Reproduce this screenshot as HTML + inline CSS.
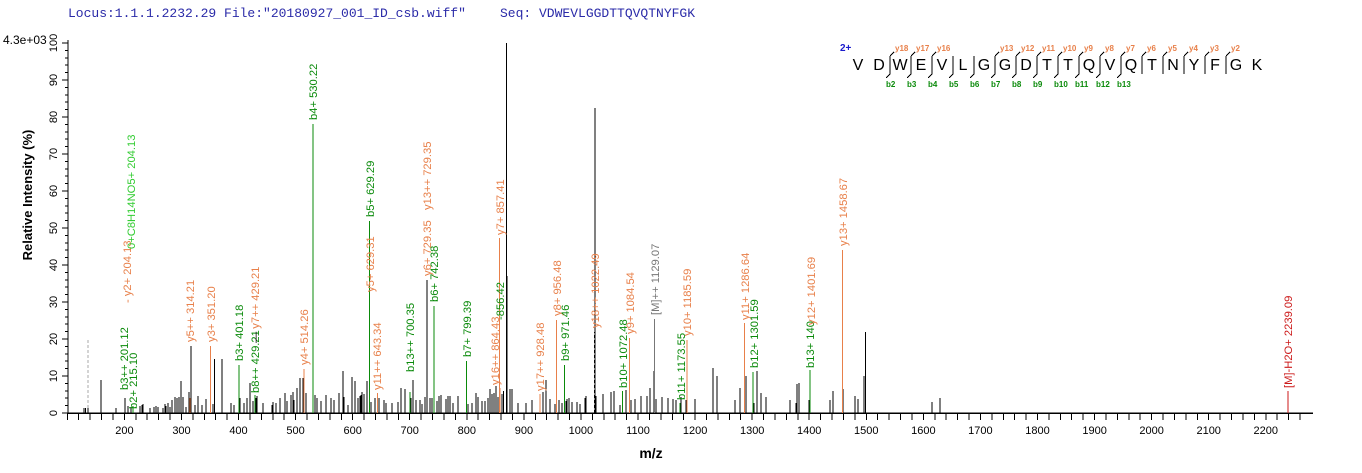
<!DOCTYPE html>
<html><head><meta charset="utf-8"><style>
html,body{margin:0;padding:0;background:#fff;}
svg{display:block;font-family:"Liberation Sans",Arial,sans-serif;}
.t{font-size:11.2px;}
line,path{shape-rendering:crispEdges;}
</style></head><body>
<svg width="1362" height="473" viewBox="0 0 1362 473" xmlns="http://www.w3.org/2000/svg">
<text x="68" y="17" font-family="Liberation Mono,monospace" font-size="13" fill="#2a2aa8">Locus:1.1.1.2232.29 File:"20180927_001_ID_csb.wiff"</text>
<text x="500" y="17" font-family="Liberation Mono,monospace" font-size="13" fill="#2a2aa8">Seq: VDWEVLGGDTTQVQTNYFGK</text>
<text x="3" y="44" font-size="12">4.3e+03</text>

<line x1="68" y1="40" x2="68" y2="413" stroke="#000"/>
<line x1="68" y1="413" x2="1313" y2="413" stroke="#000" stroke-width="1.5"/>
<g stroke="#000">
<path d="M62 43H68M62 80H68M62 117H68M62 154H68M62 191H68M62 228H68M62 265H68M62 302H68M62 339H68M62 376H68M62 413H68"/>
<path d="M65 50.4H68M65 57.8H68M65 65.2H68M65 72.6H68M65 87.4H68M65 94.8H68M65 102.2H68M65 109.6H68M65 124.4H68M65 131.8H68M65 139.2H68M65 146.6H68M65 161.4H68M65 168.8H68M65 176.2H68M65 183.6H68M65 198.4H68M65 205.8H68M65 213.2H68M65 220.6H68M65 235.4H68M65 242.8H68M65 250.2H68M65 257.6H68M65 272.4H68M65 279.8H68M65 287.2H68M65 294.6H68M65 309.4H68M65 316.8H68M65 324.2H68M65 331.6H68M65 346.4H68M65 353.8H68M65 361.2H68M65 368.6H68M65 383.4H68M65 390.8H68M65 398.2H68M65 405.6H68"/>
</g>
<g font-size="11" text-anchor="middle">
<text transform="translate(57,43) rotate(-90)">100</text>
<text transform="translate(57,80) rotate(-90)">90</text>
<text transform="translate(57,117) rotate(-90)">80</text>
<text transform="translate(57,154) rotate(-90)">70</text>
<text transform="translate(57,191) rotate(-90)">60</text>
<text transform="translate(57,228) rotate(-90)">50</text>
<text transform="translate(57,265) rotate(-90)">40</text>
<text transform="translate(57,302) rotate(-90)">30</text>
<text transform="translate(57,339) rotate(-90)">20</text>
<text transform="translate(57,376) rotate(-90)">10</text>
<text transform="translate(57,413) rotate(-90)">0</text>
</g>
<text transform="translate(32,195) rotate(-90)" font-size="13" font-weight="bold" text-anchor="middle">Relative   Intensity (%)</text>

<g stroke="#000">
<path d="M67.3 413V420M78.7 413V420M90.1 413V420M101.6 413V420M113 413V420M124.4 413V420M135.8 413V420M147.2 413V420M158.6 413V420M170 413V420M181.5 413V420M192.9 413V420M204.3 413V420M215.7 413V420M227.1 413V420M238.5 413V420M249.9 413V420M261.4 413V420M272.8 413V420M284.2 413V420M295.6 413V420M307 413V420M318.4 413V420M329.8 413V420M341.3 413V420M352.7 413V420M364.1 413V420M375.5 413V420M386.9 413V420M398.3 413V420M409.7 413V420M421.1 413V420M432.6 413V420M444 413V420M455.4 413V420M466.8 413V420M478.2 413V420M489.6 413V420M501 413V420M512.5 413V420M523.9 413V420M535.3 413V420M546.7 413V420M558.1 413V420M569.5 413V420M580.9 413V420M592.4 413V420M603.8 413V420M615.2 413V420M626.6 413V420M638 413V420M649.4 413V420M660.8 413V420M672.3 413V420M683.7 413V420M695.1 413V420M706.5 413V420M717.9 413V420M729.3 413V420M740.7 413V420M752.2 413V420M763.6 413V420M775 413V420M786.4 413V420M797.8 413V420M809.2 413V420M820.6 413V420M832.1 413V420M843.5 413V420M854.9 413V420M866.3 413V420M877.7 413V420M889.1 413V420M900.5 413V420M912 413V420M923.4 413V420M934.8 413V420M946.2 413V420M957.6 413V420M969 413V420M980.4 413V420M991.9 413V420M1003.3 413V420M1014.7 413V420M1026.1 413V420M1037.5 413V420M1048.9 413V420M1060.3 413V420M1071.7 413V420M1083.2 413V420M1094.6 413V420M1106 413V420M1117.4 413V420M1128.8 413V420M1140.2 413V420M1151.6 413V420M1163.1 413V420M1174.5 413V420M1185.9 413V420M1197.3 413V420M1208.7 413V420M1220.1 413V420M1231.5 413V420M1243 413V420M1254.4 413V420M1265.8 413V420M1277.2 413V420M1288.6 413V420M1300 413V420"/>
</g>
<g font-size="11" text-anchor="middle">
<text x="124.4" y="434">200</text><text x="181.5" y="434">300</text><text x="238.5" y="434">400</text><text x="295.6" y="434">500</text><text x="352.7" y="434">600</text><text x="409.7" y="434">700</text><text x="466.8" y="434">800</text><text x="523.9" y="434">900</text><text x="580.9" y="434">1000</text><text x="638" y="434">1100</text><text x="695.1" y="434">1200</text><text x="752.2" y="434">1300</text><text x="809.2" y="434">1400</text><text x="866.3" y="434">1500</text><text x="923.4" y="434">1600</text><text x="980.4" y="434">1700</text><text x="1037.5" y="434">1800</text><text x="1094.6" y="434">1900</text><text x="1151.6" y="434">2000</text><text x="1208.7" y="434">2100</text><text x="1265.8" y="434">2200</text>
</g>
<text x="651" y="458" font-size="14" font-weight="bold" text-anchor="middle">m/z</text>

<line x1="88" y1="413" x2="88" y2="339" stroke="#aaa" stroke-dasharray="3,2"/>
<g stroke="#000">
<path d="M84 413V408M85.5 413V408M88 413V408M101 413V380M116 413V408M125 413V398M128 413V406M131 413V407M140 413V406M142 413V405M143 413V404M150 413V408M154 413V407M156 413V406M158 413V407M163 413V408M165 413V404M166 413V406M168 413V403M170 413V407M172 413V400M175 413V397M177 413V398M179 413V397M181 413V381M183 413V397M186 413V407M189 413V392M191 413V346M195 413V405M198 413V396M202 413V405M206 413V399M213 413V404M214.5 413V359M222 413V359M231 413V403M234 413V405M240 413V398M244 413V403M247 413V398M250 413V383M253 413V401M256 413V398M257 413V396M263 413V403M272 413V405M273 413V402M276 413V403M280 413V398M285 413V393M287 413V401M291 413V395M293 413V392M294 413V400M297 413V388M300 413V378M303 413V378M306 413V393M315 413V395M317 413V398M321 413V401M326 413V395M331 413V398M334 413V400M339 413V393M343 413V371M344 413V397M348 413V405M352 413V377M355 413V381M358 413V398M360 413V396M361 413V395M362 413V392M364 413V394M367 413V381M371 413V402M375 413V398M379 413V398M384 413V400M386 413V403M392 413V403M398 413V402M401 413V388M405 413V389M411 413V398M413 413V380M416 413V400M420 413V400M422 413V404M425 413V397M427 413V280M430 413V398M432 413V398M437 413V401M439 413V396M441 413V395M446 413V399M448 413V396M450 413V396M453 413V403M458 413V396M468 413V404M472 413V403M476 413V393M478 413V397M482 413V401M485 413V401M488 413V398M490 413V389M492 413V394M494 413V393M496 413V386M498 413V397M502 413V394M503.5 413V391M506.5 413V43M507 413V276M510 413V389M512 413V389M518 413V403M526 413V403M532 413V400M543 413V392M546 413V380M550 413V399M555 413V404M559 413V400M562 413V403M566 413V401M567 413V399M569 413V398M572 413V402M577 413V402M580 413V404M585 413V398M586 413V396M595 413V108M596 413V396M603 413V394M611 413V392M614 413V391M620 413V405M626 413V390M631 413V400M635 413V399M641 413V396M647 413V396M650 413V388M654 413V371M656 413V399M662 413V397M668 413V398M673 413V399M676 413V400M681 413V397M686 413V400M695 413V399M713 413V368M717 413V376M735 413V400M740 413V388M746 413V376M754 413V403M757 413V371M761 413V393M766 413V397M790 413V400M796 413V403M797 413V384M799 413V383M809 413V400M830 413V400M833 413V391M843 413V389M855 413V396M858 413V399M864 413V376M865.7 413V332M932 413V402M940 413V398"/>
</g>

<g class="t">
<line x1="133" y1="413" x2="133" y2="406" stroke="#0a8a0a"/>
<text transform="translate(137,409) rotate(-90)" fill="#0a8a0a">b2+ 215.10</text>
<text transform="translate(128,390) rotate(-90)" fill="#0a8a0a">b3++ 201.12</text>
<text transform="translate(131,303) rotate(-90)" fill="#e8804a">- y2+ 204.13</text>
<text transform="translate(135,249) rotate(-90)" fill="#33cc33">0+C8H14NO5+ 204.13</text>

<line x1="189.8" y1="413" x2="189.8" y2="398" stroke="#e8804a"/>
<text transform="translate(194,342) rotate(-90)" fill="#e8804a">y5++ 314.21</text>
<line x1="210.6" y1="413" x2="210.6" y2="346" stroke="#e8804a"/>
<text transform="translate(215,342) rotate(-90)" fill="#e8804a">y3+ 351.20</text>
<line x1="239.1" y1="413" x2="239.1" y2="365" stroke="#0a8a0a"/>
<text transform="translate(243,361) rotate(-90)" fill="#0a8a0a">b3+ 401.18</text>
<line x1="255" y1="413" x2="255" y2="395" stroke="#0a8a0a"/>
<text transform="translate(259,393) rotate(-90)" fill="#0a8a0a">b8++ 429.21</text>
<text transform="translate(259,343) rotate(-90)" fill="#e8804a"><tspan fill="#000">— </tspan>y7++ 429.21</text>
<line x1="304" y1="413" x2="304" y2="369" stroke="#e8804a"/>
<text transform="translate(308,365) rotate(-90)" fill="#e8804a">y4+ 514.26</text>
<line x1="312.8" y1="413" x2="312.8" y2="124" stroke="#0a8a0a"/>
<text transform="translate(317,120) rotate(-90)" fill="#0a8a0a">b4+ 530.22</text>
<line x1="369.3" y1="413" x2="369.3" y2="221" stroke="#0a8a0a"/>
<text transform="translate(374,217) rotate(-90)" fill="#0a8a0a">b5+ 629.29</text>
<text transform="translate(374,292) rotate(-90)" fill="#e8804a">y5+ 629.31</text>
<line x1="377.3" y1="413" x2="377.3" y2="393" stroke="#e8804a"/>
<text transform="translate(381,390) rotate(-90)" fill="#e8804a">y11++ 643.34</text>
<line x1="409.8" y1="413" x2="409.8" y2="392" stroke="#0a8a0a"/>
<text transform="translate(414,372) rotate(-90)" fill="#0a8a0a">b13++ 700.35</text>
<text transform="translate(431,276) rotate(-90)" fill="#e8804a">y6+ 729.35</text>
<text transform="translate(431,210) rotate(-90)" fill="#e8804a">y13++ 729.35</text>
<line x1="433.9" y1="413" x2="433.9" y2="306" stroke="#0a8a0a"/>
<text transform="translate(438,302) rotate(-90)" fill="#0a8a0a">b6+ 742.38</text>
<line x1="466.4" y1="413" x2="466.4" y2="361" stroke="#0a8a0a"/>
<text transform="translate(471,357) rotate(-90)" fill="#0a8a0a">b7+ 799.39</text>
<line x1="499.5" y1="413" x2="499.5" y2="238" stroke="#e8804a"/>
<text transform="translate(504,235) rotate(-90)" fill="#e8804a">y7+ 857.41</text>
<text transform="translate(504,320) rotate(-90)" fill="#0a8a0a">-856.42</text>
<line x1="500" y1="413" x2="500" y2="388" stroke="#e8804a"/>
<text transform="translate(499,385) rotate(-90)" fill="#e8804a">y16++ 864.43</text>
<line x1="540" y1="413" x2="540" y2="394" stroke="#e8804a"/>
<text transform="translate(544,391) rotate(-90)" fill="#e8804a">y17++ 928.48</text>
<line x1="556.5" y1="413" x2="556.5" y2="320" stroke="#e8804a"/>
<text transform="translate(561,316) rotate(-90)" fill="#e8804a">y8+ 956.48</text>
<line x1="564.5" y1="413" x2="564.5" y2="365" stroke="#0a8a0a"/>
<text transform="translate(569,361) rotate(-90)" fill="#0a8a0a">b9+ 971.46</text>
<line x1="594.5" y1="413" x2="594.5" y2="332" stroke="#000" stroke-dasharray="3,2"/>
<text transform="translate(599,328) rotate(-90)" fill="#e8804a">y18++ 1022.49</text>
<line x1="622.3" y1="413" x2="622.3" y2="391" stroke="#0a8a0a"/>
<text transform="translate(627,388) rotate(-90)" fill="#0a8a0a">b10+ 1072.48</text>
<line x1="629.3" y1="413" x2="629.3" y2="338" stroke="#e8804a"/>
<text transform="translate(634,334) rotate(-90)" fill="#e8804a">y9+ 1084.54</text>
<line x1="654.5" y1="413" x2="654.5" y2="319" stroke="#777"/>
<text transform="translate(659,315) rotate(-90)" fill="#777">[M]++ 1129.07</text>
<line x1="680" y1="413" x2="680" y2="403" stroke="#0a8a0a"/>
<text transform="translate(685,400) rotate(-90)" fill="#0a8a0a">b11+ 1173.55</text>
<line x1="687" y1="413" x2="687" y2="340" stroke="#e8804a"/>
<text transform="translate(691,336) rotate(-90)" fill="#e8804a">y10+ 1185.59</text>
<line x1="744.5" y1="413" x2="744.5" y2="323" stroke="#e8804a"/>
<text transform="translate(749,320) rotate(-90)" fill="#e8804a">y11+ 1286.64</text>
<line x1="753" y1="413" x2="753" y2="372" stroke="#0a8a0a"/>
<text transform="translate(758,368) rotate(-90)" fill="#0a8a0a">b12+ 1301.59</text>
<line x1="810" y1="413" x2="810" y2="370" stroke="#0a8a0a"/>
<text transform="translate(814,368) rotate(-90)" fill="#0a8a0a">b13+ 140</text>
<text transform="translate(815,325) rotate(-90)" fill="#e8804a">y12+ 1401.69</text>
<line x1="842.7" y1="413" x2="842.7" y2="250" stroke="#e8804a"/>
<text transform="translate(847,246) rotate(-90)" fill="#e8804a">y13+ 1458.67</text>
<line x1="1288" y1="413" x2="1288" y2="391" stroke="#cc1a1a"/>
<text transform="translate(1292,388) rotate(-90)" fill="#cc1a1a">[M]-H2O+ 2239.09</text>
</g>

<text x="840" y="51" font-size="10" font-weight="bold" fill="#1a1acc">2+</text>
<g font-size="16" text-anchor="middle">
<text x="858" y="70">V</text><text x="879" y="70">D</text><text x="900" y="70">W</text><text x="921" y="70">E</text><text x="942" y="70">V</text><text x="963" y="70">L</text><text x="984" y="70">G</text><text x="1005" y="70">G</text><text x="1026" y="70">D</text><text x="1047" y="70">T</text><text x="1068" y="70">T</text><text x="1089" y="70">Q</text><text x="1110" y="70">V</text><text x="1131" y="70">Q</text><text x="1152" y="70">T</text><text x="1173" y="70">N</text><text x="1194" y="70">Y</text><text x="1215" y="70">F</text><text x="1236" y="70">G</text><text x="1257" y="70">K</text>
</g>
<g stroke="#000" fill="none">
<path d="M890 56V74M911 56V74M932 56V74M953 56V74M974 56V74M995 56V74M1016 56V74M1037 56V74M1058 56V74M1079 56V74M1100 56V74M1121 56V74M1142 56V74M1163 56V74M1184 56V74M1205 56V74M1226 56V74"/>
<path d="M890 56L894 52M911 56L915 52M932 56L936 52M995 56L999 52M1016 56L1020 52M1037 56L1041 52M1058 56L1062 52M1079 56L1083 52M1100 56L1104 52M1121 56L1125 52M1142 56L1146 52M1163 56L1167 52M1184 56L1188 52M1205 56L1209 52M1226 56L1230 52"/>
<path d="M890 74L886 78M911 74L907 78M932 74L928 78M953 74L949 78M974 74L970 78M995 74L991 78M1016 74L1012 78M1037 74L1033 78M1058 74L1054 78M1079 74L1075 78M1100 74L1096 78M1121 74L1117 78"/>
</g>
<g font-size="8" fill="#e8804a" font-weight="bold">
<text x="895" y="51">y18</text><text x="916" y="51">y17</text><text x="937" y="51">y16</text><text x="1000" y="51">y13</text><text x="1021" y="51">y12</text><text x="1042" y="51">y11</text><text x="1063" y="51">y10</text><text x="1084" y="51">y9</text><text x="1105" y="51">y8</text><text x="1126" y="51">y7</text><text x="1147" y="51">y6</text><text x="1168" y="51">y5</text><text x="1189" y="51">y4</text><text x="1210" y="51">y3</text><text x="1231" y="51">y2</text>
</g>
<g font-size="8" fill="#0a8a0a" font-weight="bold">
<text x="886" y="87">b2</text><text x="907" y="87">b3</text><text x="928" y="87">b4</text><text x="949" y="87">b5</text><text x="970" y="87">b6</text><text x="991" y="87">b7</text><text x="1012" y="87">b8</text><text x="1033" y="87">b9</text><text x="1054" y="87">b10</text><text x="1075" y="87">b11</text><text x="1096" y="87">b12</text><text x="1117" y="87">b13</text>
</g>
</svg>
</body></html>
